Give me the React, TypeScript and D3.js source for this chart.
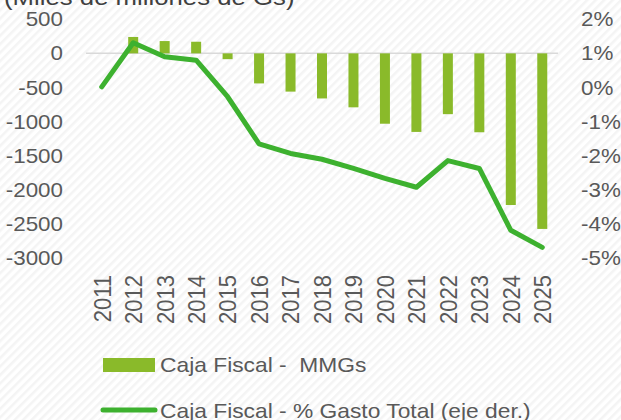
import React from "react";
import * as d3 from "d3";

const years = ["2011","2012","2013","2014","2015","2016","2017","2018","2019","2020","2021","2022","2023","2024","2025"];
const cajaMMGs: (number | null)[] = [null, 240, 180, 170, -85, -440, -560, -660, -790, -1030, -1150, -890, -1155, -2220, -2570];
const cajaPct = [0.02, 1.31, 0.90, 0.80, -0.27, -1.65, -1.93, -2.10, -2.37, -2.66, -2.92, -2.14, -2.37, -4.18, -4.68];
const leftTicks = [500, 0, -500, -1000, -1500, -2000, -2500, -3000];
const rightTicks = [2, 1, 0, -1, -2, -3, -4, -5];
const title = "(Miles de millones de Gs)";
const legendBar = "Caja Fiscal -  MMGs";
const legendLine = "Caja Fiscal - % Gasto Total (eje der.)";

const W = 621, H = 420;
const BAR = "#8aba2a";
const LINE = "#3db12f";
const TXT = "#595959";
const FONT = "'Liberation Sans', Arial, sans-serif";
const SX = 1.12;
const SXL = 1.14;

export default function App() {
  const x = d3.scaleBand<string>().domain(years).range([86, 558]).padding(0);
  const yL = d3.scaleLinear().domain([-3000, 500]).range([258.3, 19.2]);
  const yR = d3.scaleLinear().domain([-5, 2]).range([258.3, 19.2]);
  const bw = 10;
  const cx = (d: string) => (x(d) as number) + x.bandwidth() / 2;

  const line = d3.line<number>()
    .x((_, i) => cx(years[i]))
    .y((v) => yR(v));

  return (
    <div style={{ position: "absolute", left: 0, top: 0 }}>
      <svg width={W} height={H} style={{ display: "block" }} fontFamily={FONT}>
        <defs>
          <pattern id="stripes" width="6" height="6" patternUnits="userSpaceOnUse" patternTransform="rotate(45)">
            <rect width="6" height="6" fill="#ffffff" />
            <rect width="2.5" height="6" fill="#f4f4f4" />
          </pattern>
        </defs>
        <rect x={0} y={0} width={W} height={H} fill="url(#stripes)" />

        <text transform={`translate(4,5) scale(${SX},1)`} fontSize={23} fill="#404040">{title}</text>

        {leftTicks.map((t) => (
          <text key={"l" + t} transform={`translate(63,${yL(t)}) scale(${SX},1)`} textAnchor="end" dy="0.35em" fontSize={20} fill={TXT}>
            {t}
          </text>
        ))}
        {rightTicks.map((t) => (
          <text key={"r" + t} transform={`translate(581,${yR(t)}) scale(${SX},1)`} textAnchor="start" dy="0.35em" fontSize={20} fill={TXT}>
            {t + "%"}
          </text>
        ))}

        <line x1={86} x2={558} y1={yL(0)} y2={yL(0)} stroke="#d9d9d9" strokeWidth={1.5} />

        {cajaMMGs.map((v, i) =>
          v === null ? null : (
            <rect key={"b" + i}
              x={cx(years[i]) - bw / 2}
              y={Math.min(yL(v), yL(0))}
              width={bw}
              height={Math.abs(yL(v) - yL(0))}
              fill={BAR} />
          )
        )}

        <path d={line(cajaPct) || ""} fill="none" stroke={LINE} strokeWidth={5} strokeLinejoin="round" strokeLinecap="round" />

        {years.map((yv) => (
          <text key={"y" + yv} transform={`translate(${cx(yv)},275) scale(${SX},1) rotate(-90)`} textAnchor="end" dy="0.36em" fontSize={22} fill={TXT}>
            {yv}
          </text>
        ))}

        <rect x={103} y={358} width={52} height={14} fill={BAR} />
        <text transform={`translate(160,372) scale(${SXL},1)`} fontSize={20} fill={TXT} xmlSpace="preserve" style={{ whiteSpace: "pre" }}>{legendBar}</text>
        <line x1={103} x2={155} y1={410} y2={410} stroke={LINE} strokeWidth={5} strokeLinecap="round" />
        <text transform={`translate(160,418) scale(${SXL},1)`} fontSize={20} fill={TXT}>{legendLine}</text>
      </svg>
    </div>
  );
}
